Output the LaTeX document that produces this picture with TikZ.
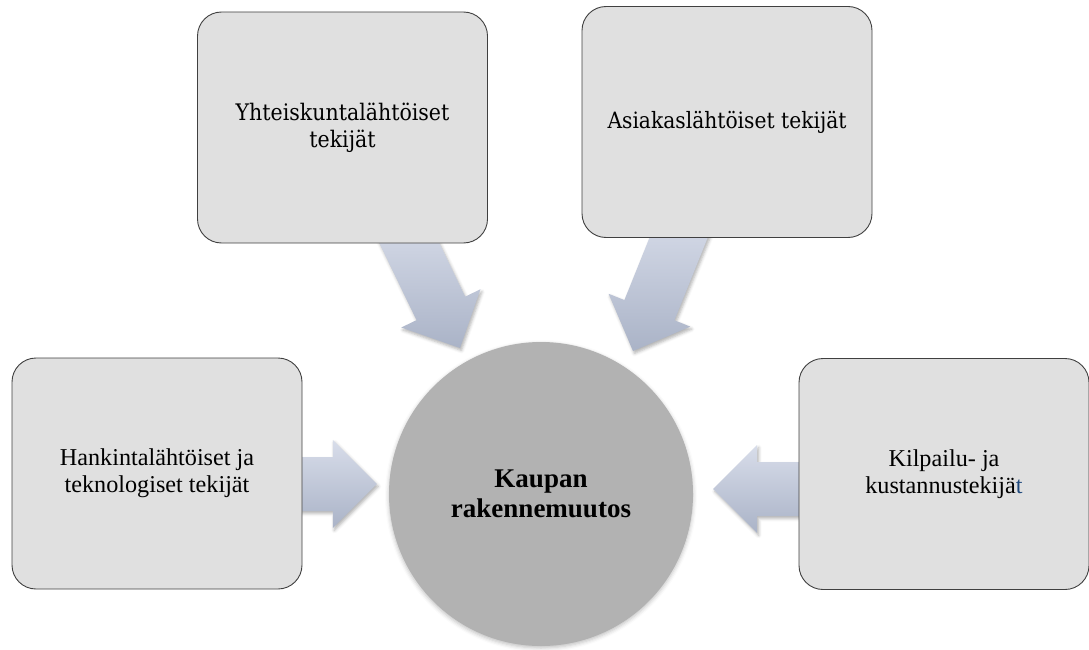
\documentclass[tikz,border=0pt]{standalone}
\usepackage{fontspec}
\setmainfont{Liberation Serif}
\newfontfamily\bookfont{DejaVu Serif}[FakeStretch=0.9]
\usepackage{tikz}
\usetikzlibrary{calc,shadows.blur}

\definecolor{boxgray}{RGB}{224,224,224}
\definecolor{circlegray}{RGB}{178,178,178}
\definecolor{arrowtop}{RGB}{216,221,234}
\definecolor{arrowbottom}{RGB}{170,179,199}
\definecolor{tblue}{RGB}{31,73,125}

\pgfdeclarelayer{shade}
\pgfdeclarelayer{background}
\pgfsetlayers{shade,background,main}

\tikzset{
  factorbox/.style={draw=black!75, line width=0.9pt, fill=boxgray, rounded corners=24pt,
    minimum width=290pt, minimum height=231pt, inner sep=0pt, align=center,
    font=\fontsize{24.2}{27}\selectfont},
  boxshade/.style={rounded corners=24pt,
    blur shadow={shadow xshift=0pt, shadow yshift=-3pt, shadow blur radius=3.5pt, shadow opacity=35}},
  changecircle/.style={circle, fill=circlegray, minimum size=304pt, inner sep=0pt, align=center,
    font=\bfseries\fontsize{27}{30}\selectfont,
    blur shadow={shadow xshift=0pt, shadow yshift=-2pt, shadow blur radius=4pt, shadow opacity=25}},
  pusharrow/.style={top color=arrowtop, bottom color=arrowbottom, draw=none,
    blur shadow={shadow xshift=1.5pt, shadow yshift=-2.5pt, shadow blur radius=3pt, shadow opacity=30}}
}

% block arrow from #1 (start) to #2 (tip)
\newcommand{\pushfrom}[2]{%
  \coordinate (p0) at ($(#1)!-20pt!(#2)$);
  \coordinate (ph) at ($(#2)!44pt!(#1)$);
  \path[pusharrow] ($(p0)!27pt!90:(#2)$) -- ($(ph)!27pt!90:(#2)$) -- ($(ph)!44pt!90:(#2)$) -- (#2)
    -- ($(ph)!44pt!-90:(#2)$) -- ($(ph)!27pt!-90:(#2)$) -- ($(p0)!27pt!-90:(#2)$) -- cycle;
}

\begin{document}
\begin{tikzpicture}[x=1pt,y=-1pt]
    \useasboundingbox (0,0) rectangle (1089,650);

    \node[changecircle] (kr) at (541,494) {Kaupan\\rakennemuutos};

    \node[factorbox, font=\bookfont\fontsize{22.8}{27}\selectfont] (yht) at (342.5,127.5) {Yhteiskuntalähtöiset\\tekijät};
    \node[factorbox, font=\bookfont\fontsize{22.5}{27}\selectfont] (asi) at (727,122) {Asiakaslähtöiset tekijät};
    \node[factorbox] (han) at (157,473.5) {Hankintalähtöiset ja\\teknologiset tekijät};
    \node[factorbox] (kil) at (944,474) {Kilpailu- ja\\kustannustekijä\textcolor{tblue}{t}};

    % arrow ends
    \coordinate (ys) at ($(yht.south)+(67,0)$);
    \coordinate (yt) at (460,348);
    \coordinate (as) at ($(asi.south)+(-48.5,0)$);
    \coordinate (at) at (633,351);
    \coordinate (hs) at ($(han.east)+(0,10.5)$);
    \coordinate (ht) at ($(kr.west)+(-12,-10)$);
    \coordinate (ks) at ($(kil.west)+(0,15)$);
    \coordinate (kt) at ($(kr.east)+(20,-5)$);

    \begin{pgfonlayer}{shade}
        \path[boxshade] (yht.south west) rectangle (yht.north east);
        \path[boxshade] (asi.south west) rectangle (asi.north east);
        \path[boxshade] (han.south west) rectangle (han.north east);
        \path[boxshade] (kil.south west) rectangle (kil.north east);
    \end{pgfonlayer}

    \begin{pgfonlayer}{background}
        \pushfrom{ys}{yt}
        \pushfrom{as}{at}
        \pushfrom{hs}{ht}
        \pushfrom{ks}{kt}
    \end{pgfonlayer}
\end{tikzpicture}
\end{document}
